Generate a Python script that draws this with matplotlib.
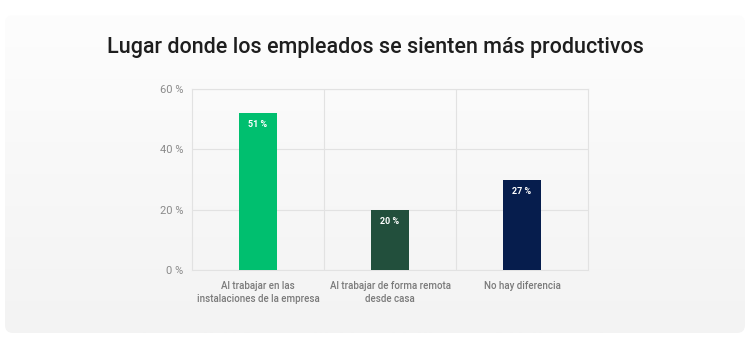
import matplotlib
matplotlib.use("Agg")
import matplotlib.pyplot as plt
import numpy as np
from matplotlib.patches import FancyBboxPatch

categories = ["Al trabajar en las\ninstalaciones de la empresa",
              "Al trabajar de forma remota\ndesde casa",
              "No hay diferencia"]
values = [52, 20, 30]
value_labels = ["51 %", "20 %", "27 %"]
colors = ["#00bf6f", "#224f3c", "#061d4d"]
yticks = [0, 20, 40, 60]
ytick_labels = ["0 %", "20 %", "40 %", "60 %"]
title = "Lugar donde los empleados se sienten más productivos"

W, H = 750, 354
fig = plt.figure(figsize=(W/100, H/100), dpi=100)
fig.patch.set_facecolor("white")

# background card with gradient
bg = fig.add_axes([0, 0, 1, 1])
bg.set_xlim(0, W); bg.set_ylim(H, 0); bg.axis("off")
card = FancyBboxPatch((5, 15), 740, 318, boxstyle="round,pad=0,rounding_size=8",
                      facecolor="none", edgecolor="none")
bg.add_patch(card)
grad = np.linspace(0.0, 1.0, 256).reshape(-1, 1)
cmap = matplotlib.colors.LinearSegmentedColormap.from_list("g", ["#fdfdfd", "#f3f3f3"])
im = bg.imshow(grad, extent=(5, 745, 333, 15), cmap=cmap, aspect="auto",
               origin="upper", zorder=0)
im.set_clip_path(card)

fig.text(375/W, 1 - 47/H, title, ha="center", va="center", fontsize=15.5,
         fontweight="medium", family="Roboto", color="#1e1e1e")

ax = fig.add_axes([192/W, 1 - 270/H, (588-192)/W, (270-89)/H])
ax.set_facecolor("none")
x = np.arange(len(categories))
ax.bar(x, values, width=0.29, color=colors, zorder=3)
ax.set_xlim(-0.5, 2.5)
ax.set_ylim(0, 60)
ax.set_yticks(yticks)
ax.set_yticklabels(ytick_labels, family="Roboto", fontsize=8, color="#8a8a8a")
ax.set_xticks(x)
ax.set_xticklabels(categories, family="Roboto", fontsize=7, color="#7a7a7a",
                   fontweight="medium", linespacing=1.4)
ax.set_xticks([0.5, 1.5], minor=True)
ax.tick_params(axis="both", which="both", length=0)
ax.tick_params(axis="y", pad=6)
ax.tick_params(axis="x", pad=8)
ax.grid(axis="y", color="#e2e2e2", linewidth=0.8, zorder=0)
ax.grid(axis="x", which="minor", color="#e2e2e2", linewidth=0.8, zorder=0)
for s in ax.spines.values():
    s.set_color("#e2e2e2"); s.set_linewidth(0.8)

for xi, v, lab in zip(x, values, value_labels):
    ax.annotate(lab, (xi, v), xytext=(0, -8.5), textcoords="offset points",
                ha="center", va="center", fontsize=6.5, color="white",
                fontweight="bold", family="Roboto", zorder=4)

fig.savefig("out.png", dpi=100, facecolor="white")
